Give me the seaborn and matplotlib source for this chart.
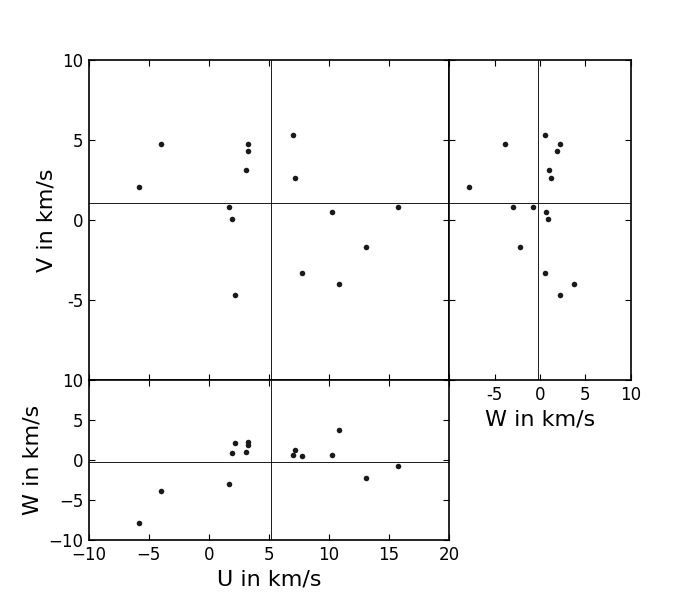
import numpy as np
import seaborn as sns
import matplotlib.pyplot as plt

# velocity components of the sample
u_vals = [-5.84, -3.98, 1.67, 1.92, 2.17, 3.09, 3.25, 3.25, 7.00, 7.16, 7.75, 10.24, 10.82, 13.07, 15.73]
v_vals = [2.08, 4.77, 0.83, 0.06, -4.69, 3.12, 4.77, 4.31, 5.31, 2.63, -3.31, 0.50, -4.00, -1.69, 0.83]
w_vals = [-7.85, -3.90, -3.00, 0.90, 2.15, 0.95, 2.25, 1.90, 0.60, 1.20, 0.50, 0.67, 3.70, -2.25, -0.72]

main_y_labels = ['', '-5', '0', '5', '10']
side_x_labels = ['', '-5', '0', '5', '10']

sns.set_theme(style="white", rc={
    "xtick.direction": "in", "ytick.direction": "in",
    "xtick.top": True, "ytick.right": True,
    "xtick.bottom": True, "ytick.left": True,
    "xtick.major.size": 4.5, "ytick.major.size": 4.5,
    "xtick.major.width": 0.8, "ytick.major.width": 0.8,
    "axes.edgecolor": "black", "axes.linewidth": 1.2,
    "xtick.color": "black", "ytick.color": "black",
    "axes.labelcolor": "black", "text.color": "black",
    "xtick.labelsize": 12, "ytick.labelsize": 12,
    "axes.labelsize": 16,
})
plt.rcParams['font.family'] = ['DejaVu Sans']

u = np.array(u_vals)
v = np.array(v_vals)
w = np.array(w_vals)

fig = plt.figure(figsize=(7, 6), dpi=100)
ax_uv = fig.add_axes([0.1267, 0.3667, 0.5151, 0.5333])
ax_wv = fig.add_axes([0.6419, 0.3667, 0.2591, 0.5333])
ax_uw = fig.add_axes([0.1267, 0.1, 0.5151, 0.2667])

# U vs V
sns.scatterplot(x=u, y=v, ax=ax_uv, color='k', s=16, linewidth=0)
ax_uv.axhline(v.mean(), color='k', lw=0.7)
ax_uv.axvline(u.mean(), color='k', lw=0.7)
ax_uv.set_xlim(-10, 20)
ax_uv.set_ylim(-10, 10)
ax_uv.set_xticks([-10, -5, 0, 5, 10, 15, 20])
ax_uv.set_xticklabels([])
ax_uv.set_yticks([-10, -5, 0, 5, 10])
ax_uv.set_yticklabels(main_y_labels)
ax_uv.set_ylabel("V in km/s")

# W vs V
sns.scatterplot(x=w, y=v, ax=ax_wv, color='k', s=16, linewidth=0)
ax_wv.axhline(v.mean(), color='k', lw=0.7)
ax_wv.axvline(w.mean(), color='k', lw=0.7)
ax_wv.set_xlim(-10, 10)
ax_wv.set_ylim(-10, 10)
ax_wv.set_xticks([-10, -5, 0, 5, 10])
ax_wv.set_xticklabels(side_x_labels)
ax_wv.set_yticks([-10, -5, 0, 5, 10])
ax_wv.set_yticklabels([])
ax_wv.set_xlabel("W in km/s")

# U vs W
sns.scatterplot(x=u, y=w, ax=ax_uw, color='k', s=16, linewidth=0)
ax_uw.axhline(w.mean(), color='k', lw=0.7)
ax_uw.axvline(u.mean(), color='k', lw=0.7)
ax_uw.set_xlim(-10, 20)
ax_uw.set_ylim(-10, 10)
ax_uw.set_xticks([-10, -5, 0, 5, 10, 15, 20])
ax_uw.set_yticks([-10, -5, 0, 5, 10])
ax_uw.set_xlabel("U in km/s")
ax_uw.set_ylabel("W in km/s")

for ax in (ax_uv, ax_wv, ax_uw):
    ax.tick_params(which='major', pad=4)

fig.savefig("out.png", dpi=100)
